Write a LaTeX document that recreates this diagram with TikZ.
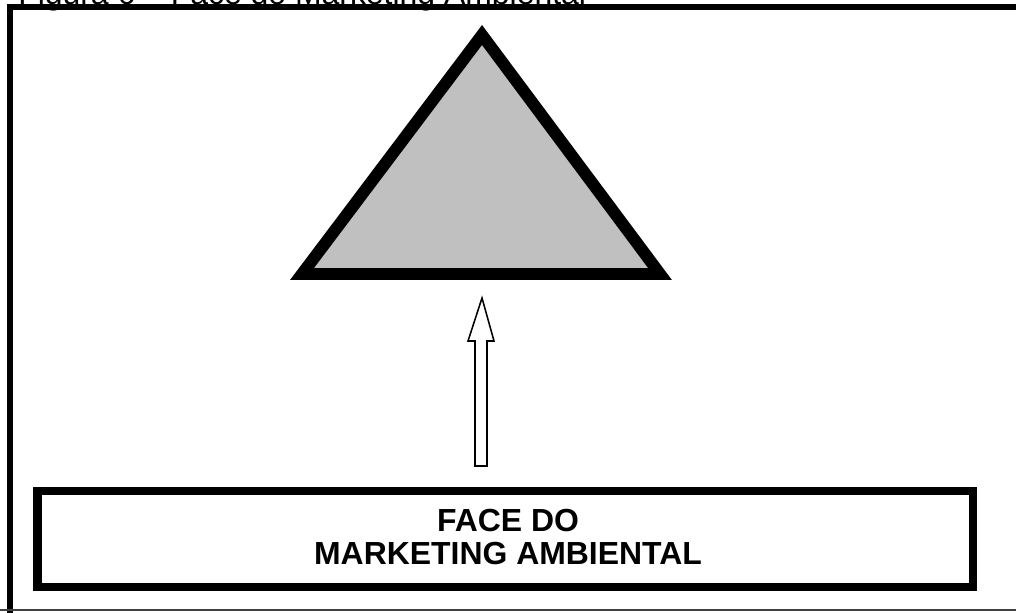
\documentclass[tikz,border=0pt]{standalone}
\usepackage{fontspec}
\setmainfont{Liberation Sans}
\usepackage{tikz}

\begin{document}
\begin{tikzpicture}[x=0.025cm,y=-0.025cm]

    \tikzstyle{frameline}=[draw=black,line width=4.2pt]
    \tikzstyle{tri}=[draw=black,fill={rgb,255:red,192;green,192;blue,192},line width=8.5pt,line join=miter]
    \tikzstyle{labelbox}=[draw=black,line width=5.7pt]
    \tikzstyle{blockarrow}=[draw=black,fill=white,line width=1.1pt,line join=miter]

    \useasboundingbox (0,0) rectangle (1016,612);
    \clip (0,0) rectangle (1016,612);

    % title, cut at the top
    \node[anchor=base west,inner sep=0pt,font=\fontsize{22.7}{24}\selectfont] (title) at (18,4) {Figura 6 -- Face do Marketing Ambiental};

    % outer frame
    \coordinate (fTL) at (10,7);
    \coordinate (fTR) at (1030,7);
    \coordinate (fBL) at (10,616);
    \draw[frameline] (fBL)--(fTL)--(fTR);
    \draw[black!75,line width=0.8pt] (0,610)--(1016,610);

    % triangle
    \coordinate (apex) at (482,35);
    \coordinate (bl) at (302,274);
    \coordinate (br) at (660,274);
    \path[tri] (apex)--(bl)--(br)--cycle;

    % block arrow
    \def\tipY{298}
    \def\headY{341}
    \def\tailY{466}
    \draw[blockarrow] (482,\tipY)--(494,\headY)--(487,\headY)--(487,\tailY)
        --(475,\tailY)--(475,\headY)--(468,\headY)--cycle;

    % label box
    \coordinate (bTL) at (37.5,491);
    \coordinate (bBR) at (973,587);
    \draw[labelbox] (bTL) rectangle (bBR);
    \node[align=center,inner sep=0pt,font=\bfseries\fontsize{22.7}{24.1}\selectfont] (face) at (508,537)
        {FACE DO\\MARKETING AMBIENTAL};

\end{tikzpicture}
\end{document}
